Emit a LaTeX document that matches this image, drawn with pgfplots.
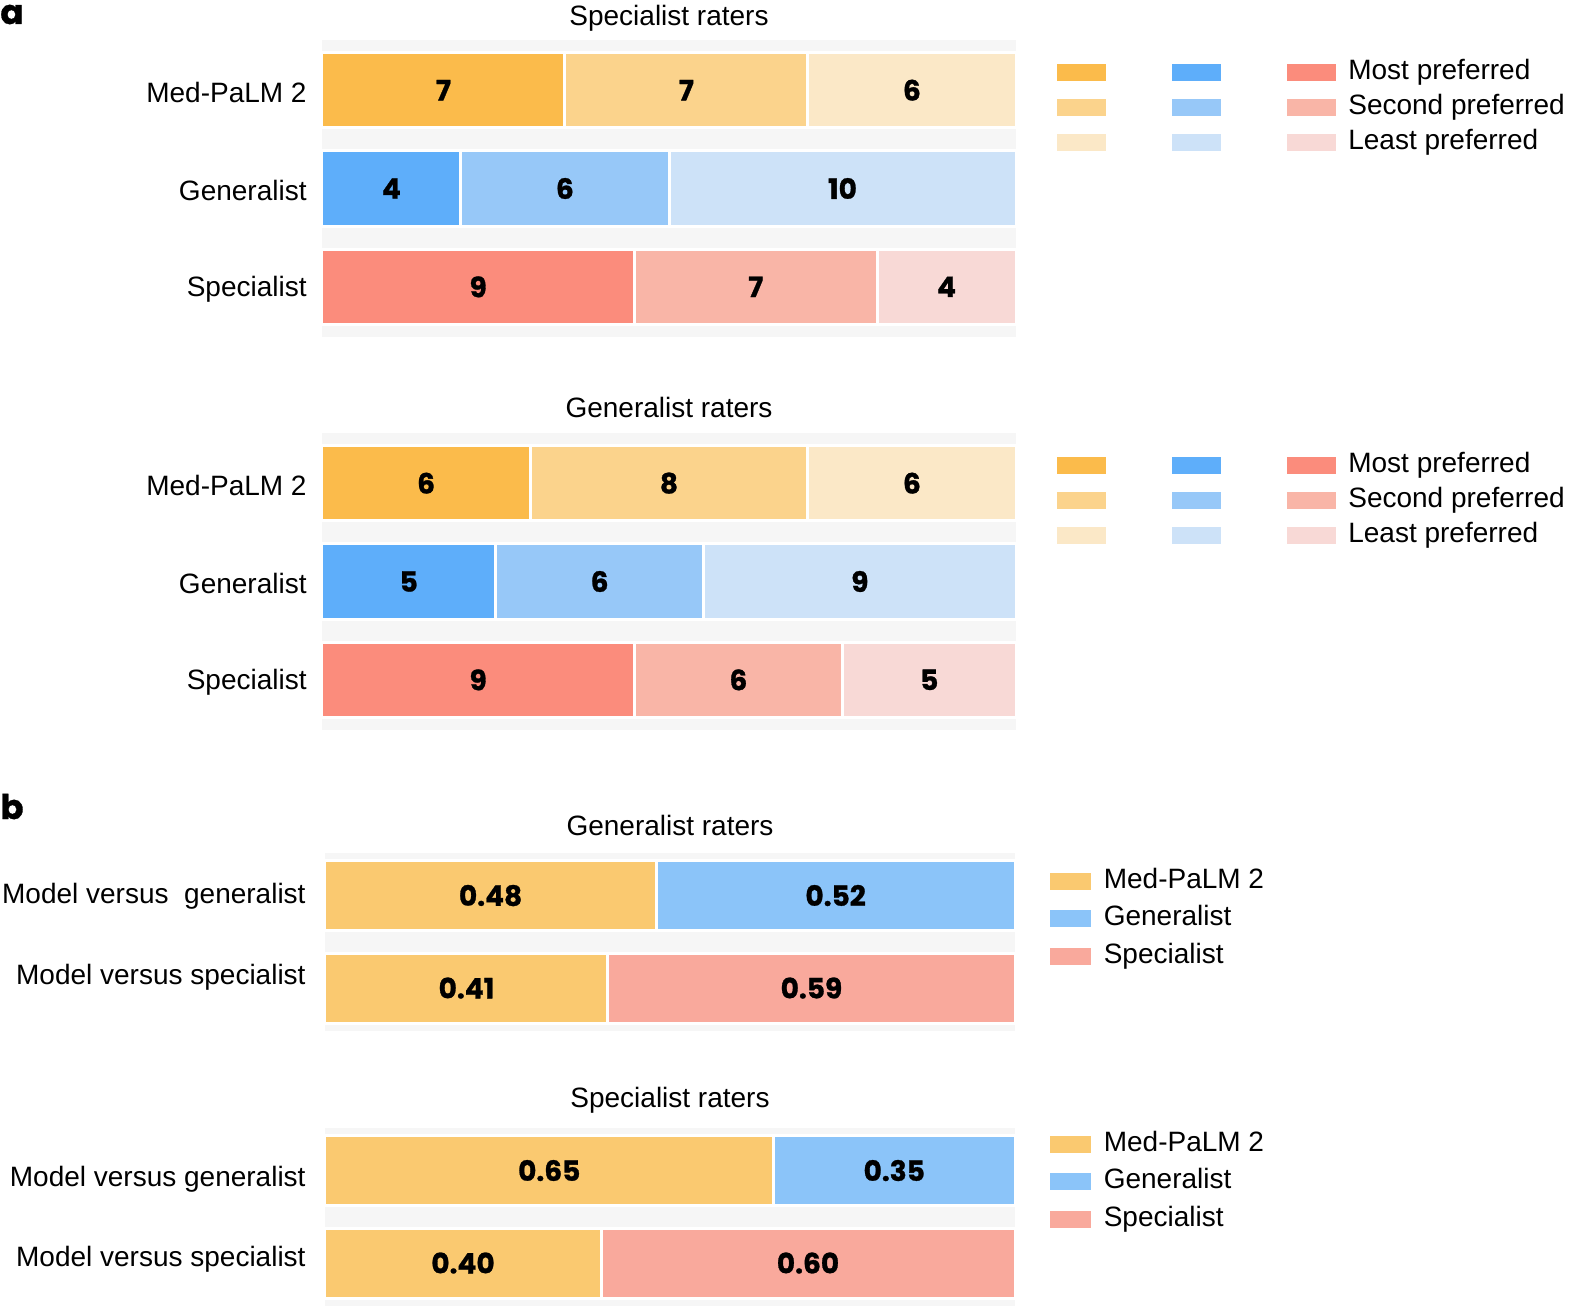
\documentclass[border=0pt]{standalone}
\usepackage{pgfplots}
\pgfplotsset{compat=1.18}
\usepackage{fontspec}
\setmainfont{Liberation Sans}
\newfontfamily\numfont{Poppins}[BoldFeatures={FakeBold=1}]

\definecolor{medA}{HTML}{FBBB4B}
\definecolor{medB}{HTML}{FBD38C}
\definecolor{medC}{HTML}{FBE8C7}
\definecolor{genA}{HTML}{5EAEFA}
\definecolor{genB}{HTML}{97C8F8}
\definecolor{genC}{HTML}{CDE2F8}
\definecolor{speA}{HTML}{FB8C7C}
\definecolor{speB}{HTML}{F9B5A7}
\definecolor{speC}{HTML}{F8D9D6}
\definecolor{medP}{HTML}{FAC970}
\definecolor{genP}{HTML}{8BC4F9}
\definecolor{speP}{HTML}{F9A99C}
\definecolor{band}{HTML}{F6F6F6}

\newcommand\txt{\fontsize{14}{16}\selectfont}

\pgfplotsset{
  panel/.style={
    scale only axis, xbar stacked, y dir=reverse,
    axis line style={draw=none}, major tick length=0pt,
    xtick=\empty, clip=false,
    axis background/.style={fill=band},
    yticklabel style={font=\txt, inner sep=0pt},
    nodes near coords={\pgfmathfloatifflags{\pgfplotspointmeta}{0}{}{\pgfmathprintnumber{\pgfplotspointmeta}}},
    every node near coord/.append style={font=\numfont\bfseries\txt, text=black},
    /pgf/number format/assume math mode=true,
    title style={font=\txt, anchor=base, at={(0.5,1)}},
    legend cell align=left,
    legend style={draw=none, fill=none, inner sep=0pt, outer sep=0pt, font=\txt,
      column sep=0pt, anchor=north west,
      nodes={inner sep=0pt, text height=10pt, text depth=3pt}},
  },
  panelA/.style={panel, width=347pt, height=148.5pt, xmin=0, xmax=20,
    ymin=-0.51, ymax=2.51, bar width=0.765,
    ytick={0,1,2}, yticklabels={Med-PaLM 2, Generalist, Specialist},
    yticklabel style={xshift=-7.5pt, yshift=-1pt},
    legend columns=3,
    legend style={at={(1.059,0.936)}, row sep=4.5pt,
      /tikz/every odd column/.append style={column sep=6.5pt},
      /tikz/every even column/.append style={column sep=25.5pt}},
  },
  panelB/.style={panel, width=345pt, height=88.8pt, xmin=0, xmax=1,
    ymin=-0.46, ymax=1.46, bar width=0.757,
    yticklabel style={xshift=-9.5pt},
    nodes near coords={\pgfmathfloatifflags{\pgfplotspointmeta}{0}{}{\pgfmathprintnumber[fixed,fixed zerofill,precision=2]{\pgfplotspointmeta}}},
    legend style={row sep=5.75pt,
      /tikz/every odd column/.append style={column sep=6.5pt}},
  },
  seg/.style={fill=#1, draw=white, line width=1.5pt, forget plot},
  swA/.style={legend image code/.code={\fill[#1] (0pt,-4pt) rectangle (24pt,4pt);}},
  swB/.style={legend image code/.code={\fill[#1] (0pt,-4pt) rectangle (20pt,4pt);}},
}

\begin{document}
\begin{tikzpicture}
\path[use as bounding box] (0,0) rectangle (785pt,-655.5pt);

\node[anchor=base west, font=\numfont\bfseries\fontsize{17}{17}\selectfont, inner sep=0pt] at (0pt,-12pt) {a};
\node[anchor=base west, font=\numfont\bfseries\fontsize{17}{17}\selectfont, inner sep=0pt] at (0pt,-409.5pt) {b};

% a: specialist raters
\begin{axis}[panelA, at={(161pt,-20pt)}, anchor=north west,
  title={Specialist raters}, title style={yshift=1.5pt}]
\addplot[seg=medA] coordinates {(7,0) (0,1) (0,2)};
\addplot[seg=medB] coordinates {(7,0) (0,1) (0,2)};
\addplot[seg=medC] coordinates {(6,0) (0,1) (0,2)};
\addplot[seg=genA] coordinates {(0,0) (4,1) (0,2)};
\addplot[seg=genB] coordinates {(0,0) (6,1) (0,2)};
\addplot[seg=genC] coordinates {(0,0) (10,1) (0,2)};
\addplot[seg=speA] coordinates {(0,0) (0,1) (9,2)};
\addplot[seg=speB] coordinates {(0,0) (0,1) (7,2)};
\addplot[seg=speC] coordinates {(0,0) (0,1) (4,2)};
\addlegendimage{swA=medA}\addlegendentry{}
\addlegendimage{swA=genA}\addlegendentry{}
\addlegendimage{swA=speA}\addlegendentry{Most preferred}
\addlegendimage{swA=medB}\addlegendentry{}
\addlegendimage{swA=genB}\addlegendentry{}
\addlegendimage{swA=speB}\addlegendentry{Second preferred}
\addlegendimage{swA=medC}\addlegendentry{}
\addlegendimage{swA=genC}\addlegendentry{}
\addlegendimage{swA=speC}\addlegendentry{Least preferred}
\end{axis}

% a: generalist raters
\begin{axis}[panelA, at={(161pt,-216.5pt)}, anchor=north west,
  title={Generalist raters}, title style={yshift=2pt}]
\addplot[seg=medA] coordinates {(6,0) (0,1) (0,2)};
\addplot[seg=medB] coordinates {(8,0) (0,1) (0,2)};
\addplot[seg=medC] coordinates {(6,0) (0,1) (0,2)};
\addplot[seg=genA] coordinates {(0,0) (5,1) (0,2)};
\addplot[seg=genB] coordinates {(0,0) (6,1) (0,2)};
\addplot[seg=genC] coordinates {(0,0) (9,1) (0,2)};
\addplot[seg=speA] coordinates {(0,0) (0,1) (9,2)};
\addplot[seg=speB] coordinates {(0,0) (0,1) (6,2)};
\addplot[seg=speC] coordinates {(0,0) (0,1) (5,2)};
\addlegendimage{swA=medA}\addlegendentry{}
\addlegendimage{swA=genA}\addlegendentry{}
\addlegendimage{swA=speA}\addlegendentry{Most preferred}
\addlegendimage{swA=medB}\addlegendentry{}
\addlegendimage{swA=genB}\addlegendentry{}
\addlegendimage{swA=speB}\addlegendentry{Second preferred}
\addlegendimage{swA=medC}\addlegendentry{}
\addlegendimage{swA=genC}\addlegendentry{}
\addlegendimage{swA=speC}\addlegendentry{Least preferred}
\end{axis}

% b: generalist raters
\begin{axis}[panelB, at={(162.5pt,-426.5pt)}, anchor=north west,
  title={Generalist raters}, title style={yshift=3pt},
  ytick={0.01,0.88}, yticklabels={Model versus\ \ generalist, Model versus specialist},
  legend style={at={(1.0507,0.915)}}]
\addplot[seg=medP] coordinates {(0.48,0) (0.41,1)};
\addplot[seg=genP] coordinates {(0.52,0) (0,1)};
\addplot[seg=speP] coordinates {(0,0) (0.59,1)};
\addlegendimage{swB=medP}\addlegendentry{Med-PaLM 2}
\addlegendimage{swB=genP}\addlegendentry{Generalist}
\addlegendimage{swB=speP}\addlegendentry{Specialist}
\end{axis}

% b: specialist raters
\begin{axis}[panelB, at={(162.5pt,-564pt)}, anchor=north west,
  title={Specialist raters}, title style={yshift=4.5pt},
  ytick={0.09,0.96}, yticklabels={Model versus generalist, Model versus specialist},
  legend style={at={(1.0507,0.983)}}]
\addplot[seg=medP] coordinates {(0.65,0) (0.40,1)};
\addplot[seg=genP] coordinates {(0.35,0) (0,1)};
\addplot[seg=speP] coordinates {(0,0) (0.60,1)};
\addlegendimage{swB=medP}\addlegendentry{Med-PaLM 2}
\addlegendimage{swB=genP}\addlegendentry{Generalist}
\addlegendimage{swB=speP}\addlegendentry{Specialist}
\end{axis}
\end{tikzpicture}
\end{document}
